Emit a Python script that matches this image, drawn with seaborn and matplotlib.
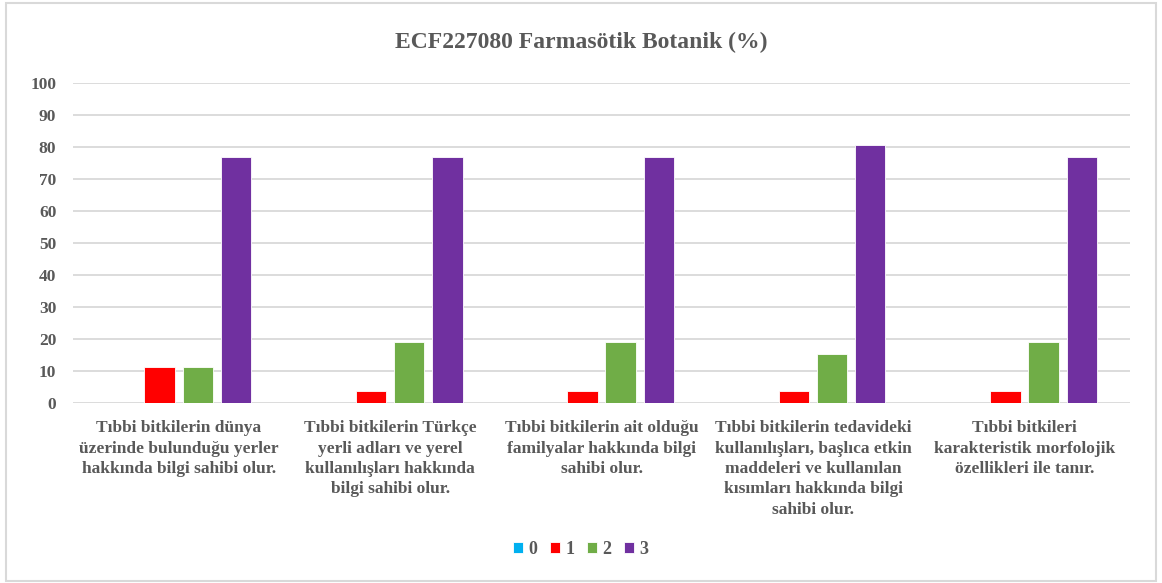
import pandas as pd
import matplotlib.pyplot as plt
import seaborn as sns
from matplotlib.patches import Rectangle

title = "ECF227080 Farmasötik Botanik (%)"
outcomes = [
    "Tıbbi bitkilerin dünya\nüzerinde bulunduğu yerler\nhakkında bilgi sahibi olur.",
    "Tıbbi bitkilerin Türkçe\nyerli adları ve yerel\nkullanılışları hakkında\nbilgi sahibi olur.",
    "Tıbbi bitkilerin ait olduğu\nfamilyalar hakkında bilgi\nsahibi olur.",
    "Tıbbi bitkilerin tedavideki\nkullanılışları, başlıca etkin\nmaddeleri ve kullanılan\nkısımları hakkında bilgi\nsahibi olur.",
    "Tıbbi bitkileri\nkarakteristik morfolojik\nözellikleri ile tanır.",
]
levels = ["0", "1", "2", "3"]
score_0 = [0, 0, 0, 0, 0]
score_1 = [11.5, 3.8, 3.8, 3.8, 3.8]
score_2 = [11.5, 19.2, 19.2, 15.4, 19.2]
score_3 = [76.9, 76.9, 76.9, 80.8, 76.9]
colors = ["#00B0F0", "#FF0000", "#70AD47", "#7030A0"]

rows = []
for lvl, vals in zip(levels, [score_0, score_1, score_2, score_3]):
    for o, v in zip(outcomes, vals):
        rows.append({"outcome": o, "level": lvl, "value": v})
df = pd.DataFrame(rows)

sns.set_style("white")
plt.rcParams["font.family"] = ["Liberation Serif", "DejaVu Serif"]
text_color = "#595959"

fig = plt.figure(figsize=(11.62, 5.83), dpi=100)
ax = fig.add_axes([0.0628, 0.308, 0.9100, 0.549])

sns.barplot(data=df, x="outcome", y="value", hue="level", order=outcomes,
            hue_order=levels, palette=colors, saturation=1, width=0.72, gap=0.2,
            edgecolor="white", linewidth=0.6, ax=ax, legend=True)

ax.set_ylim(0, 100)
ax.set_xlim(-0.5, 4.5)
ax.set_yticks(range(0, 101, 10))
ax.yaxis.grid(True, color="#D9D9D9", linewidth=1.3)
ax.set_axisbelow(True)
for s in ax.spines.values():
    s.set_visible(False)
ax.set_xlabel("")
ax.set_ylabel("")
ax.tick_params(axis="y", length=0, pad=12, labelsize=12.5, labelcolor=text_color)
ax.tick_params(axis="x", length=0, pad=12, labelsize=12.5, labelcolor=text_color)
for lab in ax.get_yticklabels():
    lab.set_fontweight("bold")
for lab in ax.get_xticklabels():
    lab.set_fontweight("bold")
    lab.set_linespacing(1.37)
    lab.set_verticalalignment("top")

leg = ax.legend(loc="center", bbox_to_anchor=(0.5, 0.058), bbox_transform=fig.transFigure,
                ncol=4, frameon=False, handlelength=0.55, handleheight=0.55,
                handletextpad=0.3, columnspacing=0.7,
                prop={"size": 13, "weight": "bold", "family": "Liberation Serif"})
for t in leg.get_texts():
    t.set_color(text_color)

fig.text(0.5, 0.928, title, ha="center", va="center", fontsize=17,
         fontweight="bold", color=text_color)

fig.patches.append(Rectangle((0.005, 0.004), 0.990, 0.990, transform=fig.transFigure,
                             fill=False, edgecolor="#D9D9D9", linewidth=1.5))

fig.savefig("out.png", dpi=100)
